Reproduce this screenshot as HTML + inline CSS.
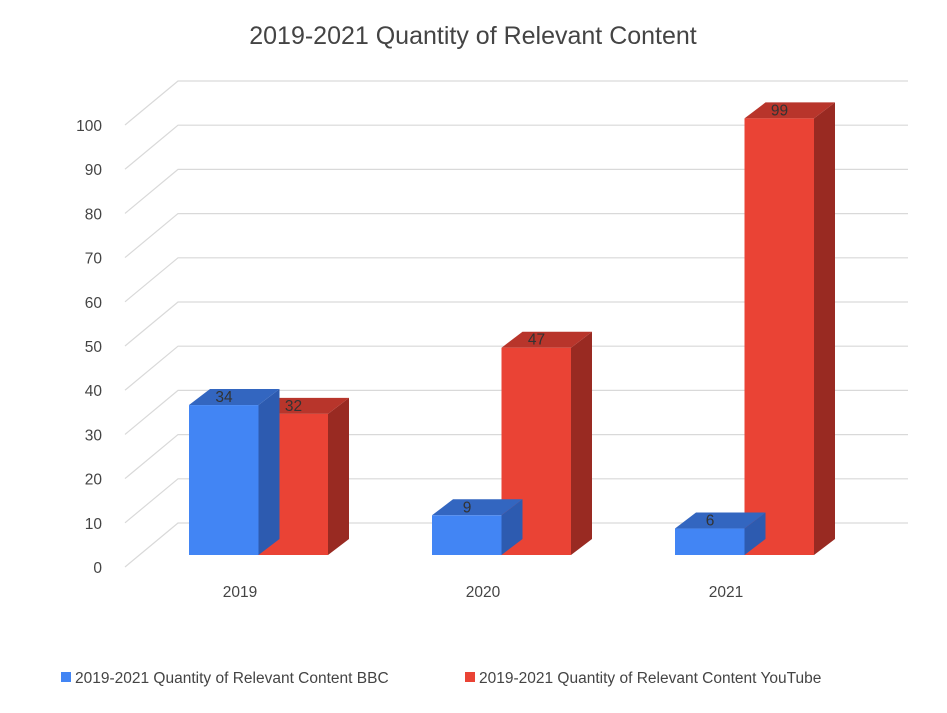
<!DOCTYPE html>
<html><head><meta charset="utf-8"><style>
body{margin:0;background:#fff;width:947px;height:708px;overflow:hidden;font-family:"Liberation Sans",Arial,sans-serif}
</style></head><body>
<svg id="chart" width="947" height="708" xmlns="http://www.w3.org/2000/svg" font-family="Liberation Sans, Arial, sans-serif">
<text x="473" y="44" text-anchor="middle" font-size="25" fill="#444">2019-2021 Quantity of Relevant Content</text>
<g id="grid"></g><g id="bars"></g>
<g>
<rect x="61" y="672" width="10" height="10" fill="#4285f4"/>
<text x="75" y="683" font-size="15.5" fill="#444">2019-2021 Quantity of Relevant Content BBC</text>
<rect x="465" y="672" width="10" height="10" fill="#ea4335"/>
<text x="479" y="683" font-size="15.5" fill="#444">2019-2021 Quantity of Relevant Content YouTube</text>
</g>
</svg>
<script>
const categories=["2019","2020","2021"];
const bbcValues=[34,9,6];
const youtubeValues=[32,47,99];
const tickLabels=[0,10,20,30,40,50,60,70,80,90,100];
const NS="http://www.w3.org/2000/svg";
const grid=document.getElementById('grid'),bars=document.getElementById('bars');
function mk(p,tag,a){const e=document.createElementNS(NS,tag);for(const k in a)e.setAttribute(k,a[k]);p.appendChild(e);return e;}
const yFront=v=>567-v*4.42;
const yBar=v=>555-v*4.41;
const catX=i=>189+i*243;
tickLabels.forEach(t=>{
 const y=yFront(t);
 const l=mk(grid,'polyline',{points:`125,${y} 178,${y-44} 908,${y-44}`,fill:'none',stroke:'#d9d9d9','stroke-width':1.2});
 
 
 const tx=mk(grid,'text',{x:102,y:y+6,'text-anchor':'end','font-size':15.5,fill:'#444'});
 tx.textContent=t;
 
 
});
function bar(x,v,front,top,side,name){
 const w=69.5,dx=21,dy=-16,y=yBar(v),b=555;
 const g=mk(bars,'g',{});
 
 
 mk(g,'polygon',{points:`${x+w},${b} ${x+w+dx},${b+dy} ${x+w+dx},${y+dy} ${x+w},${y}`,fill:side});
 mk(g,'polygon',{points:`${x},${y} ${x+dx},${y+dy} ${x+w+dx},${y+dy} ${x+w},${y}`,fill:top});
 mk(g,'rect',{x:x,y:y,width:w,height:b-y,fill:front});
 const t=mk(g,'text',{x:x+35,y:y-3,'text-anchor':'middle','font-size':15.5,fill:'#333'});
 t.textContent=v;
 
 
}
categories.forEach((c,i)=>{
 const x=catX(i);
 bar(x+69.5,youtubeValues[i],'#ea4335','#b8352b','#992a22','bar-youtube-'+c);
 bar(x,bbcValues[i],'#4285f4','#3366c0','#2d5bb0','bar-bbc-'+c);
 const t=mk(grid,'text',{x:x+51,y:597,'text-anchor':'middle','font-size':15.5,fill:'#444'});
 t.textContent=c;
 
 
});
</script>
</body></html>
